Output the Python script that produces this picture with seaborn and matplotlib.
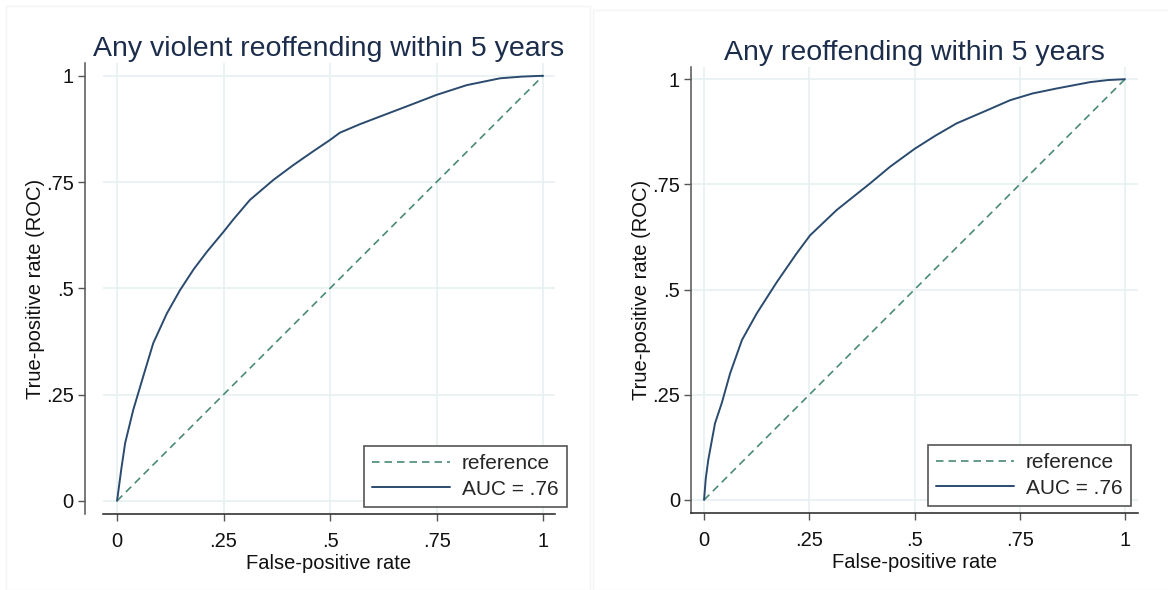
"""Two Stata-style ROC panels, side by side."""
import numpy as np
import pandas as pd
import seaborn as sns
import matplotlib.pyplot as plt
from matplotlib.patches import Rectangle

TITLES = ['Any violent reoffending within 5 years', 'Any reoffending within 5 years']
AUC_LABELS = ['AUC = .76', 'AUC = .76']

# ROC points (false-positive rate, true-positive rate)
violent_fpr = [0.0, 0.010, 0.019, 0.038, 0.066, 0.085, 0.117, 0.148, 0.180, 0.211, 0.250,
               0.273, 0.312, 0.367, 0.414, 0.460, 0.500, 0.523, 0.570, 0.617, 0.680,
               0.750, 0.821, 0.899, 0.950, 1.0]
violent_tpr = [0.0, 0.075, 0.136, 0.214, 0.308, 0.371, 0.441, 0.496, 0.545, 0.586, 0.633,
               0.662, 0.708, 0.755, 0.790, 0.822, 0.849, 0.866, 0.886, 0.904, 0.928,
               0.955, 0.978, 0.994, 0.998, 1.0]

any_fpr = [0.0, 0.004, 0.010, 0.026, 0.042, 0.062, 0.090, 0.125, 0.173, 0.220, 0.252,
           0.315, 0.394, 0.442, 0.501, 0.550, 0.600, 0.672, 0.727, 0.780, 0.838, 0.917,
           0.960, 1.0]
any_tpr = [0.0, 0.050, 0.095, 0.182, 0.230, 0.301, 0.380, 0.443, 0.518, 0.586, 0.629,
           0.689, 0.752, 0.792, 0.835, 0.866, 0.895, 0.926, 0.950, 0.966, 0.978, 0.993,
           0.998, 1.0]

REF = [0.0, 1.0]
TICKS = [0, 0.25, 0.5, 0.75, 1]
TICK_LABELS = ['0', '.25', '.5', '.75', '1']

ROC_COLOR = '#2a4a6e'
REF_COLOR = '#4a8a76'
TITLE_COLOR = '#1c2d4c'
GRID_COLOR = '#e8f0f2'

sns.set_theme(style='white')
plt.rcParams['font.family'] = ['Liberation Sans', 'DejaVu Sans']

W, H = 1168, 590
fig = plt.figure(figsize=(W / 100, H / 100), dpi=100)

# pixel boxes of each plot region: left, top, right, bottom
panels = [
    dict(box=(103, 63, 555, 514), xlim=(-0.033, 1.028), ylim=(-0.031, 1.030),
         spine_off=13, legend=(567, 507), fpr=violent_fpr, tpr=violent_tpr),
    dict(box=(691, 67, 1138, 513), xlim=(-0.031, 1.031), ylim=(-0.031, 1.029),
         spine_off=0, legend=(1131, 506), fpr=any_fpr, tpr=any_tpr),
]

# faint frames of the two exported graphs
fig.patches.append(Rectangle((6 / W, 0.0), 584 / W, 1 - 6 / H, transform=fig.transFigure,
                             fill=False, edgecolor='#f4f4f4', lw=1))
fig.patches.append(Rectangle((593 / W, 0.0), 580 / W, 1 - 10 / H, transform=fig.transFigure,
                             fill=False, edgecolor='#f4f4f4', lw=1))

for i, p in enumerate(panels):
    l, t, r, b = p['box']
    ax = fig.add_axes([l / W, 1 - b / H, (r - l) / W, (b - t) / H])

    ref_df = pd.DataFrame({'x': REF, 'y': REF})
    roc_df = pd.DataFrame({'x': p['fpr'], 'y': p['tpr']})
    sns.lineplot(data=ref_df, x='x', y='y', ax=ax, color=REF_COLOR, lw=1.2,
                 linestyle=(0, (4.5, 3)), label='reference', sort=False, estimator=None)
    sns.lineplot(data=roc_df, x='x', y='y', ax=ax, color=ROC_COLOR, lw=1.4,
                 label=AUC_LABELS[i], sort=False, estimator=None)

    ax.set_xlim(*p['xlim'])
    ax.set_ylim(*p['ylim'])
    ax.set_xticks(TICKS)
    ax.set_xticklabels(TICK_LABELS)
    ax.set_yticks(TICKS)
    ax.set_yticklabels(TICK_LABELS, rotation=90, va='center')
    ax.grid(True, color=GRID_COLOR, lw=1.2)
    ax.set_axisbelow(True)

    for side in ['top', 'right']:
        ax.spines[side].set_visible(False)
    ax.spines['left'].set_position(('outward', p['spine_off']))
    ax.spines['left'].set_color('#555555')
    ax.spines['bottom'].set_color('#222222')
    ax.spines['left'].set_linewidth(1.1)
    ax.spines['bottom'].set_linewidth(1.1)

    ax.tick_params(axis='both', which='both', direction='out', length=5, width=1,
                   color='#555555', labelsize=14.5, labelcolor='#111111',
                   left=True, bottom=True)
    ax.tick_params(axis='x', pad=8)
    ax.tick_params(axis='y', pad=3)

    ax.set_xlabel('False-positive rate', fontsize=14.5, color='#111111', labelpad=2)
    ax.set_ylabel('True-positive rate (ROC)', fontsize=14.5, color='#111111', labelpad=1)
    ax.set_title(TITLES[i], fontsize=20.5, color=TITLE_COLOR, pad=5)

    lx, ly = p['legend']
    leg = ax.legend(loc='lower right', bbox_to_anchor=(lx / W, 1 - ly / H),
                    bbox_transform=fig.transFigure, fontsize=15, frameon=True,
                    fancybox=False, handlelength=3.7, handletextpad=0.6,
                    labelspacing=0.3, borderpad=0.4, borderaxespad=0)
    leg.get_frame().set_edgecolor('#555555')
    leg.get_frame().set_linewidth(1.2)
    leg.get_frame().set_alpha(1)

fig.savefig('out.png', dpi=100)
plt.close(fig)
